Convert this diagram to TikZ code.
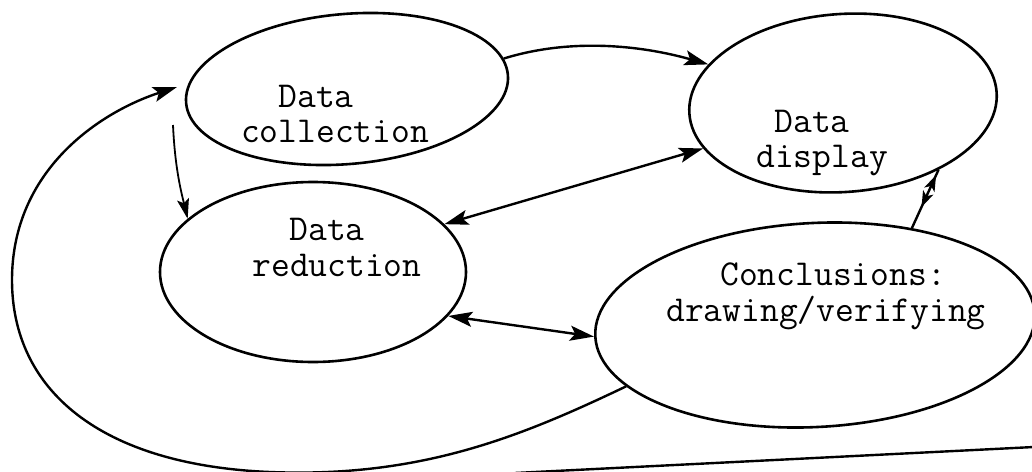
\documentclass[tikz,border=0pt]{standalone}
\usetikzlibrary{shapes.geometric,arrows.meta,decorations.markings}
\begin{document}
\begin{tikzpicture}[x=1pt,y=-1pt,
  oval/.style={draw,ellipse,line width=2.6pt,inner sep=0pt},
  lbl/.style={anchor=base,inner sep=0pt,font=\fontsize{36.5}{40}\selectfont\ttfamily},
  conn/.style={line width=2.4pt},
  headtip/.style={-{Stealth[length=24pt,width=15pt,inset=5pt]}},
  bothtip/.style={{Stealth[length=24pt,width=15pt,inset=5pt]}-{Stealth[length=24pt,width=15pt,inset=5pt]}}]
\useasboundingbox (0,0) rectangle (1032,471);
\clip (0,0) rectangle (1032,471);

% ovals
\node[oval,minimum width=323pt,minimum height=150pt,rotate=5] (coll) at (347,89) {};
\node[oval,minimum width=308pt,minimum height=178pt,rotate=4] (disp) at (843,103) {};
\node[oval,minimum width=306pt,minimum height=180pt] (red) at (313,272) {};
\node[oval,minimum width=440pt,minimum height=204pt,rotate=3] (conc) at (815,325) {};

% labels
\node[lbl] (collA) at (316,107) {Data};
\node[lbl] (collB) at (335,142) {collection};
\node[lbl] (dispA) at (812,132) {Data};
\node[lbl] (dispB) at (822,167) {display};
\node[lbl] (redA) at (327,240) {Data};
\node[lbl] (redB) at (337,276) {reduction};
\node[lbl] (concA) at (833,285) {Conclusions:};
\node[lbl] (concB) at (826,321) {drawing/verifying};

% free ends
\coordinate (c2rs) at (173,125);
\coordinate (loopend) at (177,87);
\coordinate (baseA) at (515,473);
\coordinate (baseB) at (1034,447);

% connectors
\draw[conn,headtip] (coll.6) .. controls (570,38) and (640,45) .. (disp.160);
\draw[conn,bothtip] (disp.194) -- (red.20);
\draw[conn,bothtip] (red.342) -- (conc.180);
\draw[line width=1.8pt,-{Stealth[length=20pt,width=12pt,inset=4pt]}] (c2rs) .. controls (175,170) and (182,195) .. (red.157);
\draw[conn,decoration={markings,
    mark=at position 0.34 with {\arrow{Stealth[length=16pt,width=11pt,inset=4pt,reversed]}},
    mark=at position 0.64 with {\arrow{Stealth[length=16pt,width=11pt,inset=4pt]}}},
    postaction=decorate] (disp.321) -- (conc.42);
\draw[conn,headtip] (conc.195) .. controls (520,437) and (420,478) .. (270,472)
  .. controls (100,465) and (12,390) .. (12,280)
  .. controls (12,170) and (100,112) .. (loopend);
\draw[conn] (baseA) -- (baseB);
\end{tikzpicture}
\end{document}
